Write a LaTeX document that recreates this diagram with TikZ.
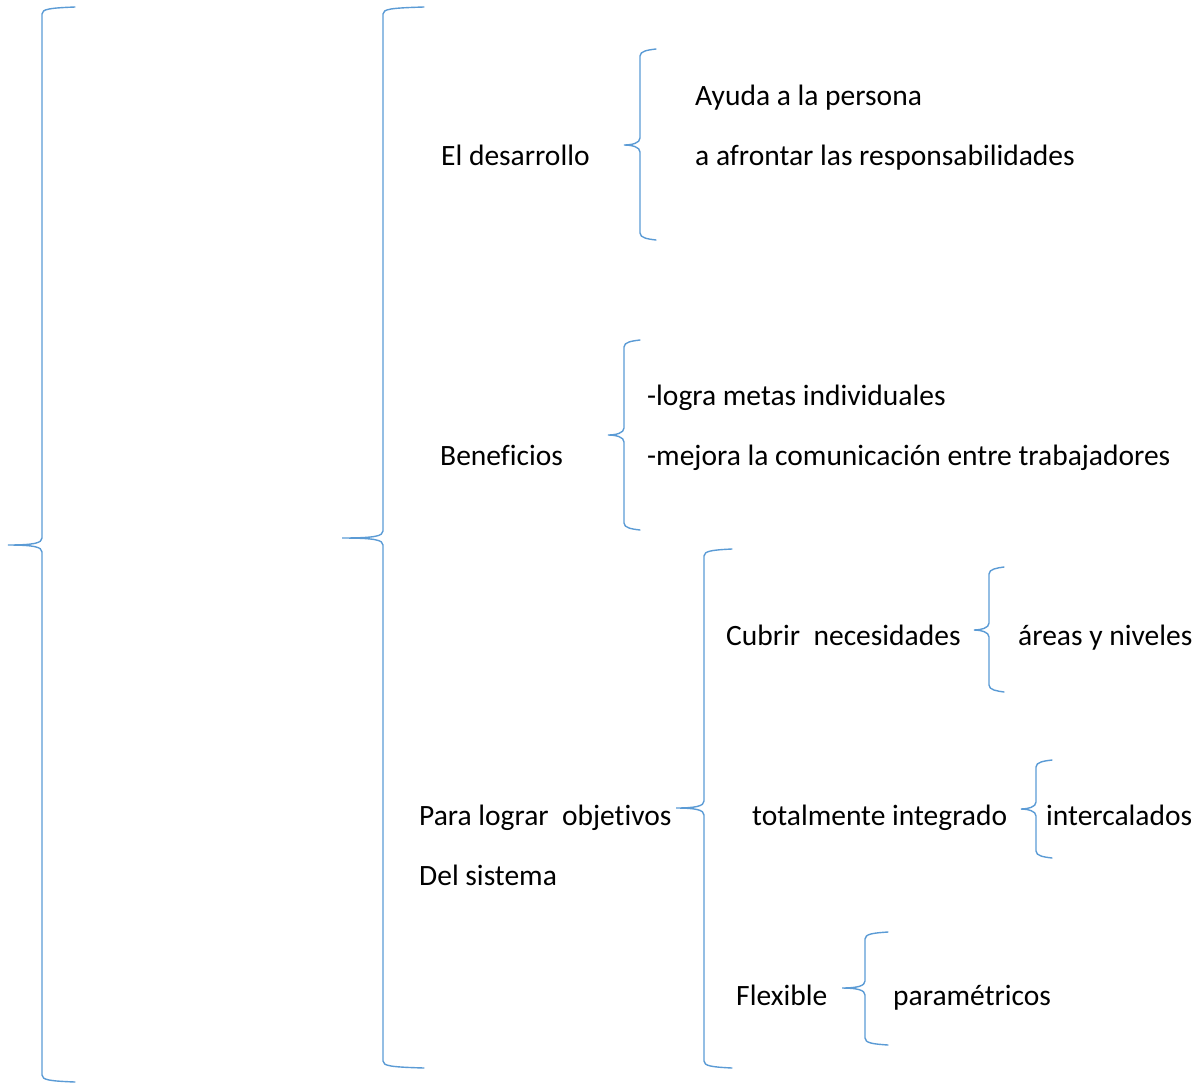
\documentclass[tikz,border=0pt]{standalone}
\usepackage{fontspec}
\setmainfont{Carlito}[Ligatures=NoCommon]
\usepackage{xcolor}
\usetikzlibrary{positioning}
\definecolor{braceblue}{HTML}{5B9BD5}

% left curly brace: vertical x, tip x, end x, top y, tip y, bottom y
\newcommand{\curlybrace}[6]{%
  \draw[brace] (#3,#4) .. controls (#1+8,#4+1) and (#1,#4+2) .. (#1,#4+7)
    -- (#1,#5-7) .. controls (#1,#5-2) and (#1-8,#5) .. (#2,#5)
    .. controls (#1-8,#5) and (#1,#5+2) .. (#1,#5+7)
    -- (#1,#6-7) .. controls (#1,#6-2) and (#1+8,#6-1) .. (#3,#6);}

\begin{document}
\begin{tikzpicture}[x=1pt,y=-1pt,
  brace/.style={braceblue, line width=1.4pt, line cap=round},
  txt/.style={anchor=base west, inner sep=0pt, font=\fontsize{29.5}{34}\selectfont}]
\useasboundingbox (0,0) rectangle (1198,1084);

% braces
\curlybrace{42}{8}{75}{7}{545}{1082}
\curlybrace{383}{342}{424}{7}{538}{1068}
\curlybrace{640}{624}{656}{49}{145}{240}
\curlybrace{624}{608}{640}{340}{435}{530}
\curlybrace{704}{676}{732}{549}{808}{1068}
\curlybrace{989}{974}{1004}{567}{630}{692}
\curlybrace{1036}{1021}{1052}{760}{809}{858}
\curlybrace{865}{842}{888}{932}{988}{1045}

% first level
\node[txt] (desarrollo) at (441,165) {El desarrollo};
\node[txt] (beneficios) at (440,465) {Beneficios};
\node[txt] (lograr) at (419,825) {Para lograr\ \ objetivos};
\node[txt] (sistema) at (419,885) {Del sistema};

% El desarrollo
\node[txt] (ayuda) at (695,105) {Ayuda a la persona};
\node[txt] (afrontar) at (695,165) {a afrontar las responsabilidades};

% Beneficios
\node[txt] (metas) at (647,405) {-logra metas individuales};
\node[txt] (mejora) at (647,465) {-mejora la comunicación entre trabajadores};

% Para lograr objetivos
\node[txt] (cubrir) at (726,645) {Cubrir\ \ necesidades};
\node[txt] (areas) at (1018,645) {áreas y niveles};
\node[txt] (integrado) at (752,825) {totalmente integrado};
\node[txt] (intercal) at (1046,825) {intercalados};
\node[txt] (flexible) at (736,1005) {Flexible};
\node[txt] (parametricos) at (893,1005) {paramétricos};
\end{tikzpicture}
\end{document}
